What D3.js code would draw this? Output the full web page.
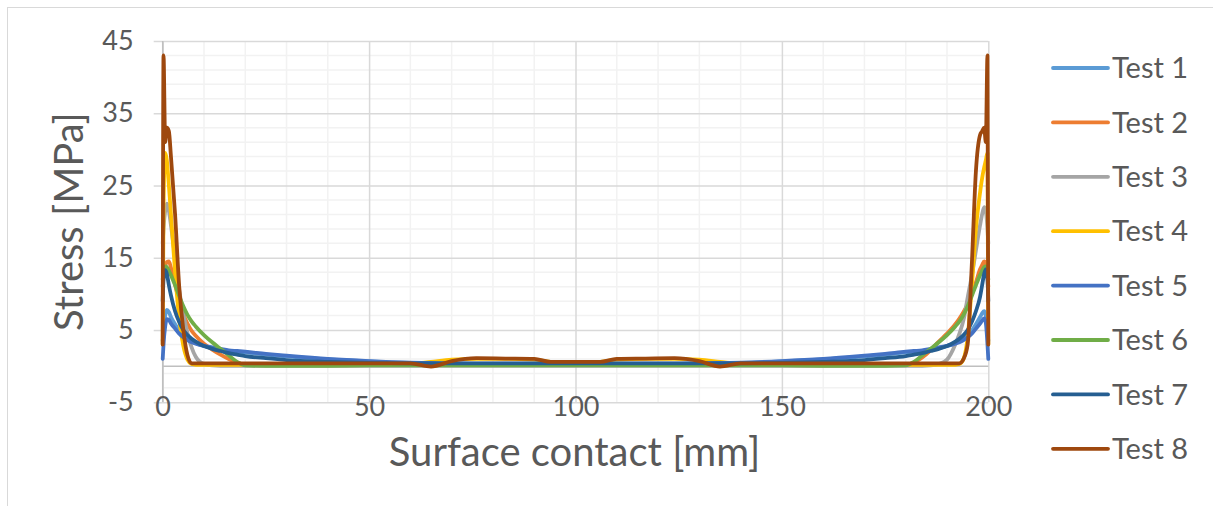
<!DOCTYPE html>
<html>
<head>
<meta charset="utf-8">
<script src="https://cdn.jsdelivr.net/npm/d3@7"></script>
<style>
  html, body { margin: 0; padding: 0; background: #ffffff; }
  svg { display: block; }
  text { font-family: Lato, "Open Sans", sans-serif; fill: #595959; }
</style>
</head>
<body>
<svg id="chart" width="1213" height="506"></svg>
<script>
// ---- data ----
const positions = [0, 0.2, 0.6, 1, 1.5, 2, 3, 4, 5, 6, 7, 8, 10, 12, 14, 16, 18, 20, 25, 30, 40, 50, 60, 65, 70, 76, 83, 90, 94, 100,
  106, 110, 117, 124, 130, 135, 140, 150, 160, 170, 175, 180, 182, 184, 186, 188, 190, 192, 193, 194, 195, 196, 197, 198, 198.5, 199, 199.4, 199.8, 200];

const seriesNames = ["Test 1", "Test 2", "Test 3", "Test 4", "Test 5", "Test 6", "Test 7", "Test 8"];
const seriesColors = ["#5B9BD5", "#ED7D31", "#A5A5A5", "#FFC000", "#4472C4", "#70AD47", "#255E91", "#9E480E"];

const test1 = [3.5, 5, 7, 7.8, 7.5, 6.8, 5.8, 4.9, 4.2, 3.8, 3.5, 3.2, 2.8, 2.5, 2.3, 2.1, 2.0, 1.9, 1.6, 1.35, 0.95, 0.65, 0.45, 0.4, 0.35, 0.3, 0.3, 0.3, 0.3, 0.3,
  0.3, 0.3, 0.3, 0.3, 0.35, 0.4, 0.45, 0.65, 0.95, 1.35, 1.6, 1.9, 2.0, 2.1, 2.3, 2.5, 2.8, 3.2, 3.5, 3.8, 4.2, 4.9, 5.8, 6.8, 7.3, 7.6, 7.0, 5, 3.5];
const test2 = [11, 12.5, 13.8, 14.4, 14.5, 13.6, 11.3, 9.0, 7.2, 5.9, 4.9, 4.2, 3.1, 2.3, 1.6, 1.0, 0.5, 0.2, 0.1, 0.1, 0.1, 0.15, 0.15, 0.15, 0.15, 0.15, 0.15, 0.15, 0.15, 0.15,
  0.15, 0.15, 0.15, 0.15, 0.15, 0.15, 0.15, 0.15, 0.1, 0.1, 0.1, 0.2, 0.5, 1.2, 2.2, 3.4, 4.5, 5.8, 6.6, 7.5, 8.6, 10.0, 11.6, 13.4, 14.0, 14.5, 14.2, 12.5, 11];
const test3 = [17, 19, 21.5, 22.5, 21.5, 19.5, 15, 10.5, 7.2, 4.6, 2.6, 1.3, 0.3, 0.1, 0.05, 0.05, 0.05, 0.05, 0.05, 0.05, 0.05, 0.05, 0.05, 0.05, 0.05, 0.05, 0.05, 0.05, 0.05, 0.05,
  0.05, 0.05, 0.05, 0.05, 0.05, 0.05, 0.05, 0.05, 0.05, 0.05, 0.05, 0.05, 0.05, 0.05, 0.1, 0.3, 0.9, 3.0, 4.5, 6.4, 9.5, 12.5, 16, 19.5, 21, 22, 21.5, 19, 17];
const test4 = [3, 22, 29.5, 28.5, 25, 21, 13, 6.5, 2.8, 0.9, 0.3, 0.2, 0.2, 0.2, 0.2, 0.2, 0.2, 0.2, 0.2, 0.2, 0.2, 0.2, 0.3, 0.6, 0.9, 1.0, 1.0, 0.9, 0.6, 0.6,
  0.6, 0.9, 1.0, 1.0, 0.9, 0.6, 0.3, 0.2, 0.2, 0.2, 0.2, 0.2, 0.2, 0.2, 0.2, 0.2, 0.2, 0.2, 0.3, 1.0, 4, 11, 19, 24, 26, 27.5, 28.5, 29.5, 3];
const test5 = [1.0, 3, 5.5, 6.5, 6.4, 5.9, 5.2, 4.5, 4.0, 3.6, 3.3, 3.1, 2.8, 2.6, 2.4, 2.2, 2.1, 2.0, 1.7, 1.45, 1.0, 0.7, 0.5, 0.45, 0.4, 0.35, 0.35, 0.35, 0.35, 0.35,
  0.35, 0.35, 0.35, 0.35, 0.4, 0.45, 0.5, 0.7, 1.0, 1.45, 1.7, 2.0, 2.1, 2.2, 2.4, 2.6, 2.8, 3.1, 3.3, 3.6, 4.0, 4.5, 5.2, 5.9, 6.3, 6.6, 6.0, 3, 1.0];
const test6 = [12, 13, 13.8, 13.7, 13.2, 12.6, 11.2, 9.7, 8.3, 7.1, 6.2, 5.5, 4.3, 3.3, 2.4, 1.5, 0.6, 0.1, 0.05, 0.05, 0.05, 0.1, 0.1, 0.1, 0.1, 0.1, 0.1, 0.1, 0.1, 0.1,
  0.1, 0.1, 0.1, 0.1, 0.1, 0.1, 0.1, 0.1, 0.05, 0.05, 0.05, 0.1, 0.6, 1.5, 2.4, 3.3, 4.3, 5.5, 6.2, 7.1, 8.3, 9.7, 11.2, 12.6, 13.2, 13.7, 13.8, 13, 12];
const test7 = [9, 12, 13.3, 12.8, 11.2, 9.8, 7.6, 6.1, 5.0, 4.3, 3.8, 3.4, 2.8, 2.4, 2.1, 1.8, 1.6, 1.4, 1.1, 0.85, 0.6, 0.45, 0.4, 0.4, 0.4, 0.4, 0.4, 0.4, 0.4, 0.4,
  0.4, 0.4, 0.4, 0.4, 0.4, 0.4, 0.4, 0.45, 0.6, 0.85, 1.1, 1.4, 1.6, 1.8, 2.1, 2.4, 2.8, 3.4, 3.8, 4.3, 5.0, 6.1, 7.6, 9.6, 11.2, 12.8, 13.4, 12, 9];
const test8 = [3, 43, 31, 33, 32.5, 29, 21, 11, 5, 1.5, 0.4, 0.4, 0.4, 0.4, 0.4, 0.4, 0.4, 0.4, 0.4, 0.4, 0.4, 0.4, 0.4, -0.05, 0.7, 1.1, 1.05, 1.0, 0.6, 0.6,
  0.6, 1.0, 1.05, 1.1, 0.7, -0.05, 0.4, 0.4, 0.4, 0.4, 0.4, 0.4, 0.4, 0.4, 0.4, 0.4, 0.4, 0.4, 0.4, 1.0, 3, 14, 27, 32, 32.5, 33, 31, 43, 3];

const seriesValues = [test1, test2, test3, test4, test5, test6, test7, test8];

const xTickValues = [0, 50, 100, 150, 200];
const xMinorValues = [10, 20, 30, 40, 60, 70, 80, 90, 110, 120, 130, 140, 160, 170, 180, 190];
const yTickValues = [-5, 5, 15, 25, 35, 45];
const yMinorValues = [-3, -1, 1, 3, 7, 9, 11, 13, 17, 19, 21, 23, 27, 29, 31, 33, 37, 39, 41, 43];

const xTitle = "Surface contact [mm]";
const yTitle = "Stress [MPa]";

// ---- layout ----
const svg = d3.select("#chart");
const plot = { left: 162.7, right: 988.3, top: 41, bottom: 402.3 };

const x = d3.scaleLinear().domain([0, 200]).range([plot.left, plot.right]);
const y = d3.scaleLinear().domain([-5, 45]).range([plot.bottom, plot.top]);

// outer chart border
svg.append("rect")
  .attr("x", 7.5).attr("y", 7.5)
  .attr("width", 1213).attr("height", 510)
  .attr("fill", "none").attr("stroke", "#d9d9d9").attr("stroke-width", 1);

// minor gridlines
svg.append("g").selectAll("line.hminor").data(yMinorValues).join("line")
  .attr("x1", plot.left).attr("x2", plot.right)
  .attr("y1", d => y(d)).attr("y2", d => y(d))
  .attr("stroke", "#f2f2f2").attr("stroke-width", 1.5);
svg.append("g").selectAll("line.vminor").data(xMinorValues).join("line")
  .attr("x1", d => x(d)).attr("x2", d => x(d))
  .attr("y1", plot.top).attr("y2", plot.bottom)
  .attr("stroke", "#f2f2f2").attr("stroke-width", 1.5);

// major gridlines via axes
const yGrid = d3.axisLeft(y).tickValues(yTickValues).tickSize(-(plot.right - plot.left)).tickFormat("");
svg.append("g").attr("transform", `translate(${plot.left},0)`).call(yGrid)
  .call(g => g.select(".domain").remove())
  .call(g => g.selectAll("line").attr("stroke", "#d9d9d9").attr("stroke-width", 1.5));
const xGrid = d3.axisBottom(x).tickValues(xTickValues).tickSize(-(plot.bottom - plot.top)).tickFormat("");
svg.append("g").attr("transform", `translate(0,${plot.bottom})`).call(xGrid)
  .call(g => g.select(".domain").remove())
  .call(g => g.selectAll("line").attr("stroke", "#d9d9d9").attr("stroke-width", 1.5));

// y axis (ticks outside + labels)
const yAxis = d3.axisLeft(y).tickValues(yTickValues).tickSize(9).tickPadding(20).tickFormat(d => String(d));
svg.append("g").attr("transform", `translate(${plot.left},0)`).call(yAxis)
  .call(g => g.select(".domain").remove())
  .call(g => g.selectAll("line").attr("stroke", "#d9d9d9").attr("stroke-width", 1.5))
  .call(g => g.selectAll("text").attr("font-size", 27).attr("fill", "#595959")
    .style("font-family", "Lato, sans-serif"));

// horizontal axis line at 0, vertical axis line at x=0
svg.append("line").attr("x1", plot.left).attr("x2", plot.right)
  .attr("y1", y(0)).attr("y2", y(0)).attr("stroke", "#bfbfbf").attr("stroke-width", 1.5);
svg.append("line").attr("x1", x(0)).attr("x2", x(0))
  .attr("y1", plot.top).attr("y2", plot.bottom).attr("stroke", "#bfbfbf").attr("stroke-width", 1.5);

// x tick labels at the bottom
const xAxis = d3.axisBottom(x).tickValues(xTickValues).tickSize(0).tickPadding(-5).tickFormat(d => String(d));
svg.append("g").attr("transform", `translate(0,${plot.bottom})`).call(xAxis)
  .call(g => g.select(".domain").remove())
  .call(g => g.selectAll("text").attr("font-size", 27).attr("fill", "#595959")
    .style("font-family", "Lato, sans-serif"));

// series lines
const line = d3.line()
  .x((d, i) => x(positions[i]))
  .y(d => y(d))
  .curve(d3.curveMonotoneX);

svg.append("g").selectAll("path.series").data(seriesValues).join("path")
  .attr("class", "series")
  .attr("d", d => line(d))
  .attr("fill", "none")
  .attr("stroke", (d, i) => seriesColors[i])
  .attr("stroke-width", 3.8)
  .attr("stroke-linejoin", "round")
  .attr("stroke-linecap", "round");

// axis titles
svg.append("text")
  .attr("x", (plot.left + plot.right) / 2 - 1).attr("y", 466)
  .attr("text-anchor", "middle")
  .attr("font-size", 40)
  .text(xTitle);
svg.append("text")
  .attr("transform", `translate(83,${(plot.top + plot.bottom) / 2}) rotate(-90)`)
  .attr("text-anchor", "middle")
  .attr("font-size", 40)
  .text(yTitle);

// legend
const legend = svg.append("g").selectAll("g").data(seriesNames).join("g")
  .attr("transform", (d, i) => `translate(1053,${68 + i * 54.4})`);
legend.append("line")
  .attr("x1", 0).attr("x2", 55).attr("y1", 0).attr("y2", 0)
  .attr("stroke", (d, i) => seriesColors[i]).attr("stroke-width", 3.8)
  .attr("stroke-linecap", "round");
legend.append("text")
  .attr("x", 59).attr("y", 0).attr("dy", "0.35em")
  .attr("font-size", 29)
  .text(d => d);
</script>
</body>
</html>
